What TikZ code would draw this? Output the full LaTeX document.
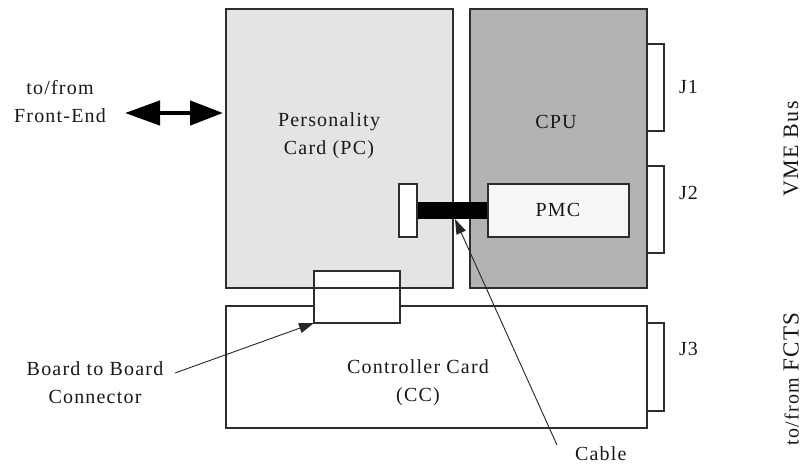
\documentclass[tikz,border=0pt]{standalone}
\usepackage{fontspec}
\setmainfont{Liberation Serif}[LetterSpace=6]
\usetikzlibrary{arrows.meta}
\definecolor{pcgray}{RGB}{228,228,228}
\definecolor{cpugray}{RGB}{179,179,179}
\definecolor{pmcwhite}{RGB}{247,247,247}
\definecolor{edgegray}{RGB}{45,45,45}
\begin{document}
\begin{tikzpicture}[x=1pt,y=-1pt,
  box/.style={draw=edgegray, line width=1.3pt, inner sep=0pt, outer sep=0pt, anchor=north west},
  lbl/.style={font=\fontsize{20}{28}\selectfont, inner sep=0pt, outer sep=0pt, align=center, text=black!90},
  ptr/.style={draw=black!85, line width=0.9pt, -{Triangle[length=15pt,width=10pt]}},
  bigarrow/.style={draw=black, line width=4.5pt, {Triangle[length=35pt,width=24pt]}-{Triangle[length=33pt,width=24pt]}}
]
\useasboundingbox[fill=white] (0,0) rectangle (805,464);
% cards
\node[box, fill=pcgray, minimum width=227pt, minimum height=279pt] (pc) at (226,9) {};
\node[box, fill=white, minimum width=17pt, minimum height=87pt] (j1) at (647,44) {};
\node[box, fill=white, minimum width=17pt, minimum height=87pt] (j2) at (647,166) {};
\node[box, fill=cpugray, minimum width=177pt, minimum height=279pt] (cpu) at (470,9) {};
\node[box, fill=white, minimum width=17pt, minimum height=88pt] (j3) at (647,323) {};
\node[box, fill=white, minimum width=421pt, minimum height=122pt] (cc) at (226,306) {};
% cable
\node[fill=black, inner sep=0pt, outer sep=0pt, minimum width=71pt, minimum height=17pt, anchor=north west] (cab) at (417,202) {};
\node[box, fill=pmcwhite, minimum width=141pt, minimum height=53pt] (pmc) at (488,184) {};
\node[box, fill=white, minimum width=18pt, minimum height=53pt] (pcc) at (399,184) {};
% board to board connector
\node[box, fill=white, minimum width=86pt, minimum height=52pt] (b2b) at (314,271) {};
\draw[draw=edgegray, line width=1.3pt] (b2b.west |- pc.south) -- (b2b.east |- pc.south);
% labels
\node[lbl] (fe) at (60,102) {to/from\\Front-End};
\node[lbl] (pctext) at (329,136) {Personality\\Card (PC)};
\node[lbl, anchor=base] (cputext) at (556,128) {CPU};
\node[lbl, anchor=base] (pmctext) at (558,216) {PMC};
\node[lbl] (cctext) at (418,383) {Controller Card\\(CC)};
\node[lbl] (bbtext) at (95,383) {Board to Board\\Connector};
\node[lbl, anchor=base west] (cabtext) at (575,460) {Cable};
\node[lbl, anchor=base west] (j1text) at (679,93) {J1};
\node[lbl, anchor=base west] (j2text) at (679,199) {J2};
\node[lbl, anchor=base west] (j3text) at (679,355) {J3};
\node[lbl, rotate=90, font=\fontsize{22}{22}\selectfont] (vme) at (791,149) {VME Bus};
\node[lbl, rotate=90] (fcts) at (791,379) {to/from {\fontsize{23}{23}\selectfont FCTS}};
% connectors
\coordinate (fetip) at (125,113);
\draw[bigarrow] (fetip) -- ([xshift=-3pt]pc.west |- fetip);
\coordinate (bbtail) at (175,373);
\draw[ptr] (bbtail) -- (b2b.south west);
\coordinate (cabtail) at (557,445);
\draw[ptr] (cabtail) -- ([xshift=38pt]cab.south west);
\end{tikzpicture}
\end{document}
